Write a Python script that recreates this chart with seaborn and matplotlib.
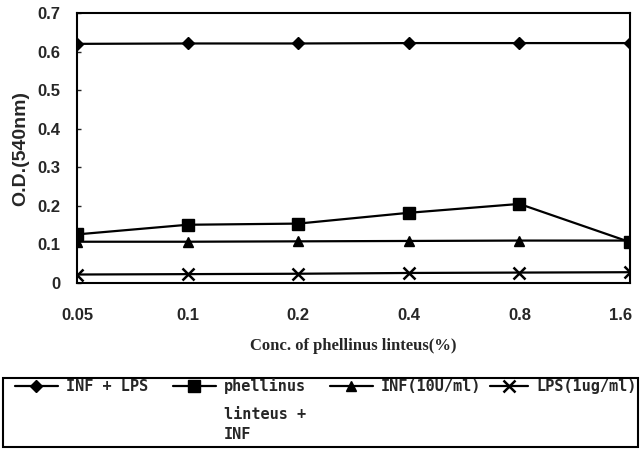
import matplotlib
matplotlib.use("Agg")
import matplotlib.pyplot as plt
from matplotlib.patches import Rectangle
from matplotlib.transforms import IdentityTransform, ScaledTranslation
import seaborn as sns
import pandas as pd

conc = ["0.05", "0.1", "0.2", "0.4", "0.8", "1.6"]
inf_lps = [0.620, 0.621, 0.621, 0.622, 0.622, 0.622]
pl_inf = [0.126, 0.151, 0.154, 0.182, 0.205, 0.106]
inf_only = [0.107, 0.107, 0.108, 0.109, 0.110, 0.110]
lps_only = [0.022, 0.023, 0.024, 0.026, 0.027, 0.028]

names = ["INF + LPS", "phellinus", "INF(10U/ml)", "LPS(1ug/ml)"]
extra_lines = "linteus +\nINF"
markers = ["D", "s", "^", "x"]
msizes = [6, 8, 7, 8]
values = [inf_lps, pl_inf, inf_only, lps_only]

W, H = 641, 449
sns.set_theme(style="white")
plt.rcParams["font.family"] = ["Liberation Sans", "DejaVu Sans"]

fig = plt.figure(figsize=(W / 100, H / 100), dpi=100)
ax = fig.add_axes([77 / W, 1 - 283 / H, 553 / W, 270 / H])

for name, vals, mk, ms in zip(names, values, markers, msizes):
    df = pd.DataFrame({"conc": conc, "od": vals})
    sns.lineplot(data=df, x="conc", y="od", ax=ax, color="black", marker=mk,
                 markersize=ms, linewidth=1.6, markeredgecolor="black",
                 markeredgewidth=1.8 if mk == "x" else 1.0, label=name, sort=False)

ax.set_xlim(0, 5)
ax.set_ylim(0, 0.7)
ax.set_yticks([0, 0.1, 0.2, 0.3, 0.4, 0.5, 0.6, 0.7])
ax.set_yticklabels(["0", "0.1", "0.2", "0.3", "0.4", "0.5", "0.6", "0.7"])
ax.tick_params(axis="y", direction="in", length=3, width=1, left=True, pad=12,
               labelsize=12)
ax.tick_params(axis="x", length=0, pad=18, labelsize=12)
for lab in ax.get_xticklabels() + ax.get_yticklabels():
    lab.set_fontweight("bold")
last = ax.get_xticklabels()[-1]
last.set_transform(last.get_transform() + ScaledTranslation(-9 / 100, 0, fig.dpi_scale_trans))
for s in ax.spines.values():
    s.set_color("black")
    s.set_linewidth(1.5)

ax.set_xlabel("Conc. of phellinus linteus(%)", family="Liberation Serif",
              fontweight="bold", fontsize=12, labelpad=11)
ax.set_ylabel("O.D.(540nm)", fontsize=14, fontweight="bold", labelpad=6)

handles, labels = ax.get_legend_handles_labels()
ax.get_legend().remove()

# legend frame
fig.patches.append(Rectangle((3 / W, 1 - 447 / H), 635 / W, 69 / H,
                             transform=fig.transFigure, fill=False,
                             edgecolor="black", linewidth=1.5))

col_x = [15, 173, 330, 490]
hlens = [2.8, 2.8, 2.8, 2.5]
legs = []
for h, l, x, hl in zip(handles, labels, col_x, hlens):
    lg = fig.legend([h], [l], loc="upper left",
                    bbox_to_anchor=(x / W, 1 - 378 / H), frameon=False,
                    handlelength=hl, handletextpad=0.55, borderpad=0,
                    borderaxespad=0,
                    prop={"family": "DejaVu Sans Mono", "size": 11,
                          "weight": "bold"})
    legs.append(lg)

# align all legend rows on the same baseline
fig.canvas.draw()
def baseline(lg):
    t = lg.get_texts()[0]
    return t.get_transform().transform(t.get_position())

ref_y = baseline(legs[1])[1]
for lg, x in zip(legs, col_x):
    dy = ref_y - baseline(lg)[1]
    lg.set_bbox_to_anchor((x / W, 1 - 378 / H + dy / H), transform=fig.transFigure)

fig.canvas.draw()
bx, by = baseline(legs[1])
fig.text(bx, by - 48, extra_lines, transform=IdentityTransform(),
         ha="left", va="baseline", family="DejaVu Sans Mono", fontsize=11,
         fontweight="bold", linespacing=1.45)

fig.savefig("out.png", dpi=100)
